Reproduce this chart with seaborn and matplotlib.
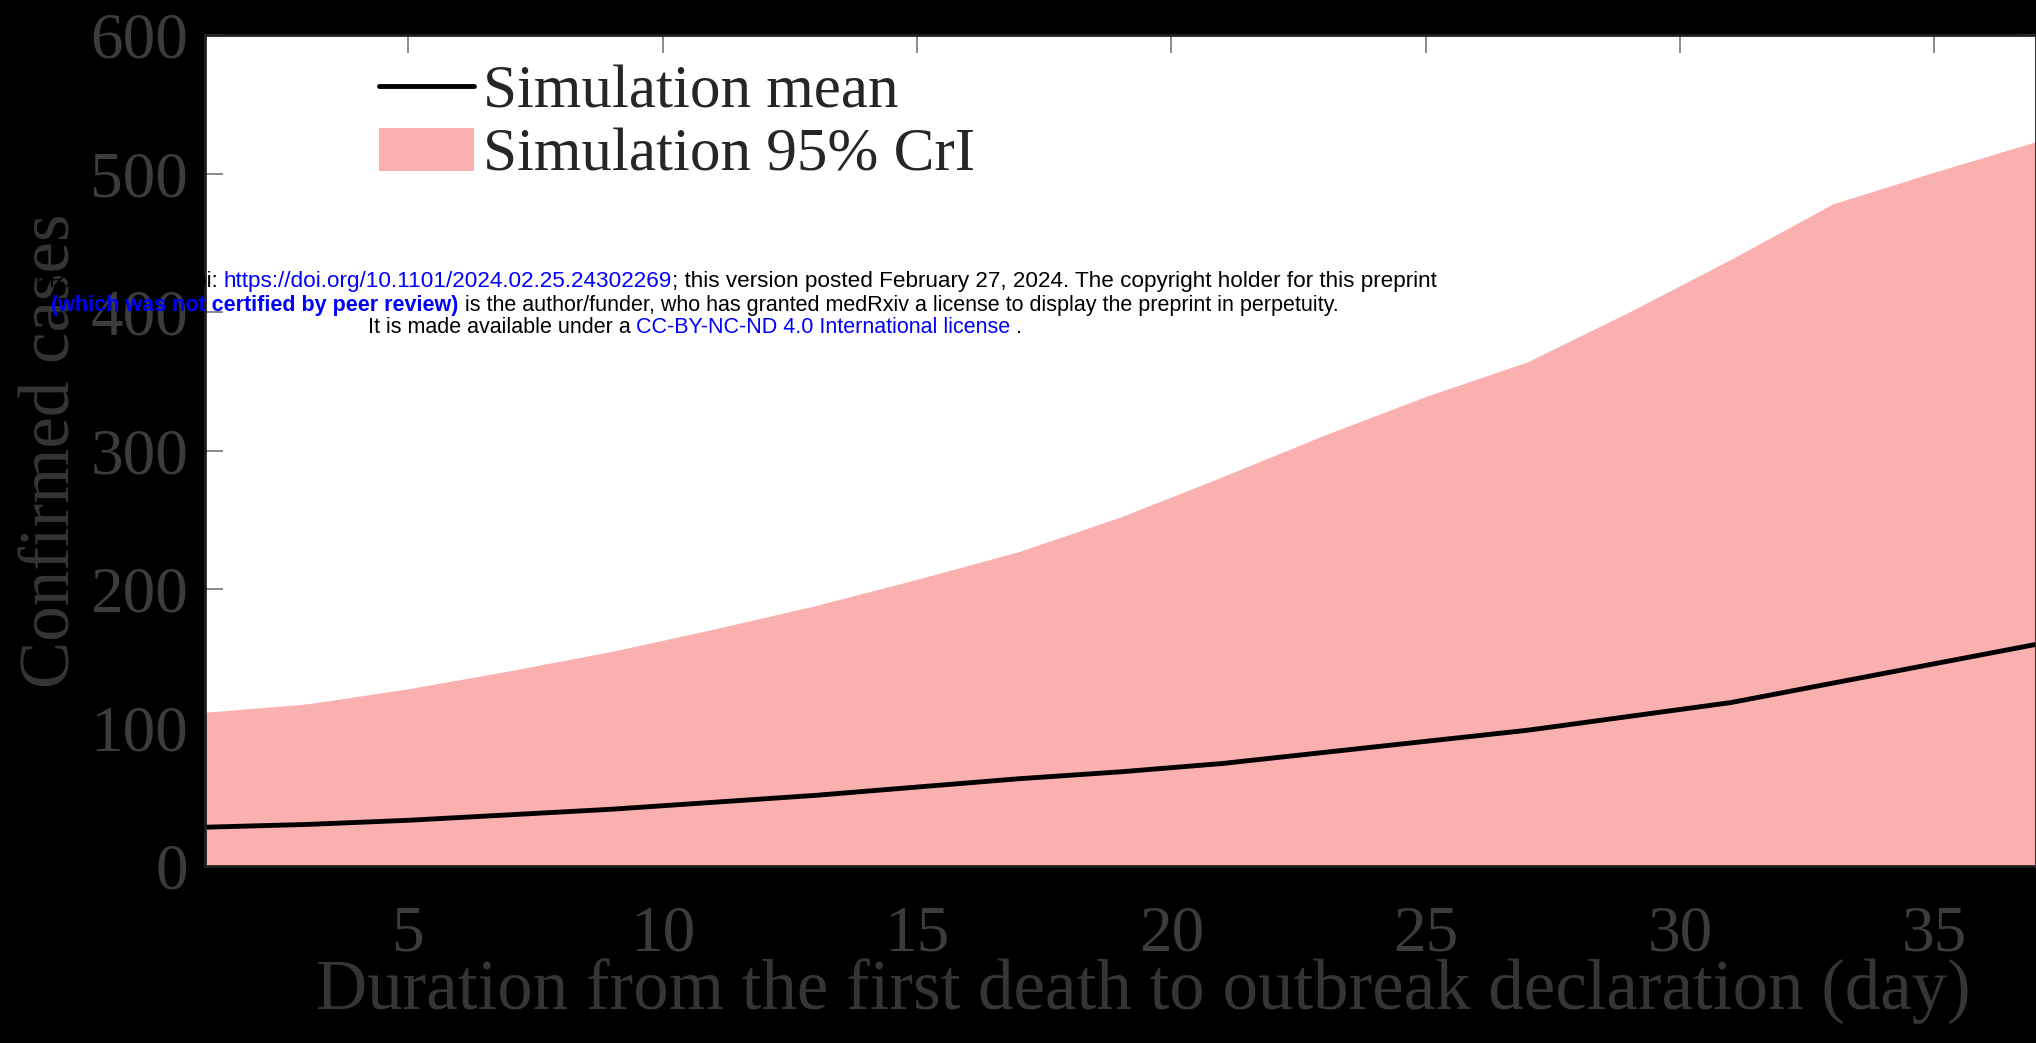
import numpy as np
import pandas as pd
import matplotlib
matplotlib.use("Agg")
import matplotlib.pyplot as plt
import seaborn as sns

# values (odd days)
days = [1, 3, 5, 7, 9, 11, 13, 15, 17, 19, 21, 23, 25, 27, 29, 31, 33, 35, 37]
sim_mean = [28, 30, 33, 37, 41, 46, 51, 57, 63, 68, 74, 82, 90, 98, 108, 118, 132, 146, 160]
cri_upper = [111, 117, 128, 141, 155, 171, 188, 207, 227, 252, 281, 311, 339, 364, 400, 438, 478, 501, 523]
cri_lower = [0] * len(days)

x_ticks = [5, 10, 15, 20, 25, 30, 35]
y_ticks = [0, 100, 200, 300, 400, 500, 600]

df = pd.DataFrame({"day": days, "mean": sim_mean, "lo": cri_lower, "hi": cri_upper})

sns.set_style("ticks")
plt.rcParams["font.family"] = ["Liberation Serif", "DejaVu Serif"]

W, H = 2036, 1043
fig = plt.figure(figsize=(W / 100, H / 100), dpi=100, facecolor="black")
ax = fig.add_axes([205 / W, (H - 866) / H, (W - 205) / W, (866 - 35) / H])
ax.set_facecolor("white")

band_col = "#fbb0b0"
ax.fill_between(df["day"], df["lo"], df["hi"], color=band_col, lw=0,
                label="Simulation 95% CrI")
sns.lineplot(data=df, x="day", y="mean", ax=ax, color="black", lw=3.5,
             label="Simulation mean")

ax.set_xlim(1, 37)
ax.set_ylim(0, 600)
ax.set_xticks(x_ticks)
ax.set_yticks(y_ticks)

tick_col = "#3c3c3c"
ax.tick_params(axis="both", which="major", direction="in", length=13, width=1.4,
               color="#8a8a8a", labelsize=47, labelcolor=tick_col,
               top=True, right=True)
ax.tick_params(axis="x", pad=28)
ax.tick_params(axis="y", pad=12)
for s in ax.spines.values():
    s.set_color("#202020")
    s.set_linewidth(2)

ax.set_xlabel("Duration from the first death to outbreak declaration (day)",
              fontsize=51, color="#353535")
ax.xaxis.set_label_coords(0.5125, -0.112)
ax.set_ylabel("Confirmed cases", fontsize=51, color="#353535")
ax.yaxis.set_label_coords(-0.066, 0.5)

# legend: line first, then band
handles, labels = ax.get_legend_handles_labels()
order = [labels.index("Simulation mean"), labels.index("Simulation 95% CrI")]
leg = ax.legend([handles[i] for i in order], [labels[i] for i in order],
                loc="upper left", bbox_to_anchor=(0.075, 1.008), frameon=False,
                fontsize=44, handlelength=1.55, handletextpad=0.15,
                labelspacing=0.12, borderaxespad=0.2)

# medRxiv watermark lines
wm_lines = [
    [("medRxiv preprint doi: ", "black", "normal"),
     ("https://doi.org/10.1101/2024.02.25.24302269", "blue", "normal"),
     ("; this version posted February 27, 2024. The copyright holder for this preprint", "black", "normal")],
    [("(which was not certified by peer review)", "blue", "bold"),
     (" is the author/funder, who has granted medRxiv a license to display the preprint in perpetuity.", "black", "normal")],
    [("It is made available under a ", "black", "normal"),
     ("CC-BY-NC-ND 4.0 International license", "blue", "normal"),
     (" .", "black", "normal")],
]
wm_y = [282, 305, 327]
wm_cx = [721, 695, 695]
wm_size = [16.2, 15.5, 15.5]
renderer = fig.canvas.get_renderer()
for segs, yp, cx, fs in zip(wm_lines, wm_y, wm_cx, wm_size):
    texts = []
    for s, c, w in segs:
        t = fig.text(0, 1 - yp / H, s, color=c, fontweight=w, fontsize=fs,
                     family=["Liberation Sans", "DejaVu Sans"], va="center",
                     ha="left", zorder=20)
        texts.append(t)
    widths = [t.get_window_extent(renderer).width for t in texts]
    x0 = cx - sum(widths) / 2
    for t, wd in zip(texts, widths):
        t.set_x(x0 / W)
        x0 += wd

fig.savefig("out.png", dpi=100, facecolor="black")
